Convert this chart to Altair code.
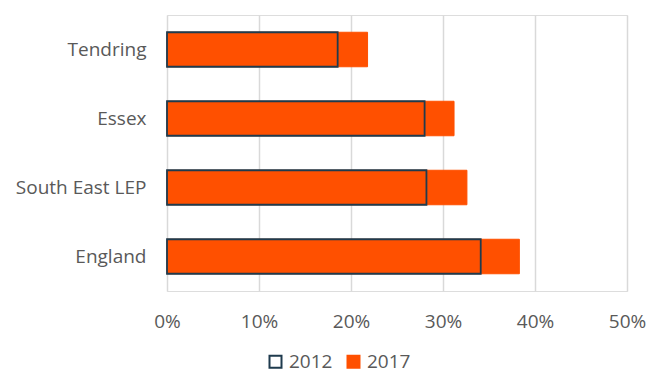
import altair as alt
import pandas as pd

regions = ["Tendring", "Essex", "South East LEP", "England"]
v2012 = [0.1855, 0.280, 0.282, 0.341]
v2017 = [0.218, 0.312, 0.326, 0.383]
years = ["2012", "2017"]
x_ticks = [0, 0.1, 0.2, 0.3, 0.4, 0.5]

ORANGE = "#ff5000"
DARK = "#1f3b4e"
GREY = "#595959"
FONT = "Open Sans"
FS = 19

df17 = pd.DataFrame({"region": regions, "value": v2017, "year": "2017"})
df12 = pd.DataFrame({"region": regions, "value": v2012, "year": "2012"})

x_enc = alt.X(
    "value:Q",
    stack=None,
    scale=alt.Scale(domain=[0, 0.5], nice=False),
    axis=alt.Axis(
        values=x_ticks, format=".0%", title=None, domain=False, ticks=False,
        grid=True, gridColor="#d9d9d9", gridWidth=1.5,
        labelFontSize=FS, labelColor=GREY, labelFont=FONT, labelPadding=21,
        labelFlush=False, labelOverlap=False,
    ),
)
y_enc = alt.Y(
    "region:N",
    sort=regions,
    scale=alt.Scale(paddingInner=0.5, paddingOuter=0.25),
    axis=alt.Axis(
        title=None, domain=False, ticks=False, grid=False,
        labelFontSize=FS, labelColor=GREY, labelFont=FONT, labelPadding=21,
    ),
)

legend = alt.Legend(
    title=None, orient="none", direction="horizontal",
    legendX=99, legendY=337, symbolType="square", symbolSize=144,
    symbolStrokeWidth=2, labelFontSize=FS, labelColor=GREY,
    labelFont=FONT, labelOffset=4, columnPadding=10, padding=0,
)

bars17 = alt.Chart(df17).mark_bar(strokeWidth=1).encode(
    x=x_enc,
    y=y_enc,
    fill=alt.Fill(
        "year:N",
        scale=alt.Scale(domain=years, range=["white", ORANGE]),
        legend=legend,
    ),
    stroke=alt.Stroke(
        "year:N",
        scale=alt.Scale(domain=years, range=[DARK, ORANGE]),
        legend=legend,
    ),
)

bars12 = alt.Chart(df12).mark_bar(
    fill="transparent", stroke=DARK, strokeWidth=1.8
).encode(x=x_enc, y=y_enc)

chart = (
    alt.layer(bars17, bars12)
    .properties(
        width=460, height=276,
        autosize=alt.AutoSizeParams(type="none"),
        padding={"left": 167, "top": 15, "right": 28, "bottom": 83},
    )
    .configure_view(stroke=None)
    .configure(background="white")
)

chart.save("out.html", embed_options={"renderer": "svg", "actions": False})
